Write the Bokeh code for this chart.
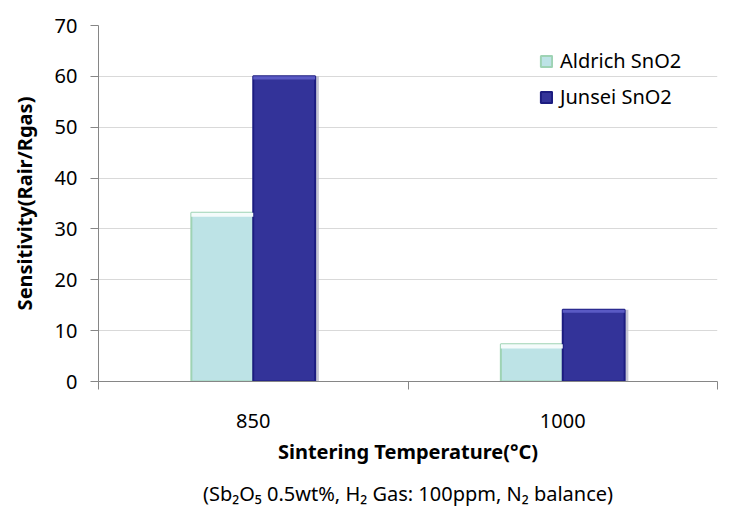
from bokeh.plotting import figure
from bokeh.models import (Range1d, FixedTicker, Title, Legend, LegendItem,
                          ColumnDataSource)
from bokeh.embed import file_html
from bokeh.resources import INLINE

# ---- data ----
categories = ["850", "1000"]
aldrich = [33.2, 7.3]
junsei = [60.0, 14.1]
series_names = ["Aldrich SnO2", "Junsei SnO2"]
y_ticks = [0, 10, 20, 30, 40, 50, 60, 70]
x_title = "Sintering Temperature(°C)"
y_title = "Sensitivity(Rair/Rgas)"
note = "(Sb₂O₅ 0.5wt%, H₂ Gas: 100ppm, N₂ balance)"

FONT = "Noto Sans"
BW = 0.2

centers = [i + 0.5 for i in range(len(categories))]

p = figure(frame_width=619, frame_height=356, output_backend="svg",
           toolbar_location=None, x_range=Range1d(0, len(categories)),
           y_range=Range1d(0, 70),
           min_border_left=98, min_border_right=20, min_border_top=25,
           min_border_bottom=132)
p.outline_line_color = None
p.background_fill_color = "white"

src_a = ColumnDataSource(dict(left=[c - 0.1 - BW / 2 for c in centers],
                              right=[c - 0.1 + BW / 2 for c in centers],
                              top=aldrich,
                              hl=[v - 0.8 for v in aldrich]))
src_j = ColumnDataSource(dict(left=[c + 0.1 - BW / 2 for c in centers],
                              right=[c + 0.1 + BW / 2 for c in centers],
                              top=junsei,
                              hl=[v - 0.6 for v in junsei],
                              sl=[c + 0.1 + BW / 2 for c in centers],
                              sr=[c + 0.1 + BW / 2 + 0.012 for c in centers]))

# shadow for dark bars
p.quad(left="sl", right="sr", bottom=0, top="top", source=src_j,
       fill_color="#b8b8c8", line_color=None, fill_alpha=0.8)

ra = p.quad(left="left", right="right", bottom=0, top="top", source=src_a,
            fill_color="#bde3e6", line_color="#9ed3b4", line_width=2)
rj = p.quad(left="left", right="right", bottom=0, top="top", source=src_j,
            fill_color="#333399", line_color="#1c1c80", line_width=2)
# bevel highlights
p.quad(left="left", right="right", bottom="hl", top="top", source=src_a,
       fill_color="#f4fbfb", line_color=None)
p.quad(left="left", right="right", bottom="hl", top="top", source=src_j,
       fill_color="#5a5ac4", line_color=None)

# axes
p.yaxis.ticker = FixedTicker(ticks=y_ticks)
p.yaxis.axis_label = y_title
p.yaxis.axis_label_text_font = FONT
p.yaxis.axis_label_text_font_style = "bold"
p.yaxis.axis_label_text_font_size = "20px"
p.yaxis.axis_label_text_color = "black"
p.yaxis.axis_label_standoff = 14
p.yaxis.major_label_text_font = FONT
p.yaxis.major_label_text_font_size = "20px"
p.yaxis.major_label_text_color = "black"
p.yaxis.major_label_standoff = 13
p.yaxis.axis_line_color = "#868686"
p.yaxis.major_tick_line_color = "#868686"
p.yaxis.major_tick_out = 8
p.yaxis.major_tick_in = 0
p.yaxis.minor_tick_line_color = None

p.xaxis.ticker = FixedTicker(ticks=centers,
                             minor_ticks=list(range(len(categories) + 1)))
p.xaxis.major_label_overrides = {c: lab for c, lab in zip(centers, categories)}
p.xaxis.axis_label = x_title
p.xaxis.axis_label_text_font = FONT
p.xaxis.axis_label_text_font_style = "bold"
p.xaxis.axis_label_text_font_size = "20px"
p.xaxis.axis_label_text_color = "black"
p.xaxis.axis_label_standoff = 7
p.xaxis.major_label_text_font = FONT
p.xaxis.major_label_text_font_size = "20px"
p.xaxis.major_label_text_color = "black"
p.xaxis.major_label_standoff = 24
p.xaxis.axis_line_color = "#868686"
p.xaxis.major_tick_line_color = None
p.xaxis.major_tick_out = 0
p.xaxis.major_tick_in = 0
p.xaxis.minor_tick_line_color = "#868686"
p.xaxis.minor_tick_out = 8
p.xaxis.minor_tick_in = 0

p.xgrid.grid_line_color = None
p.ygrid.ticker = FixedTicker(ticks=y_ticks)
p.ygrid.grid_line_color = "#d9d9d9"

legend = Legend(items=[LegendItem(label=series_names[0], renderers=[ra]),
                       LegendItem(label=series_names[1], renderers=[rj])],
                location=(441, 271), padding=0, margin=0, spacing=9,
                glyph_width=14, glyph_height=14, label_standoff=7,
                label_height=20,
                label_text_font=FONT, label_text_font_size="20px",
                label_text_color="black", background_fill_alpha=0,
                border_line_color=None)
p.add_layout(legend)

sub = Title(text=note, align="center", text_font=FONT,
            text_font_size="20px", text_font_style="normal",
            text_color="black", standoff=20)
p.add_layout(sub, "below")

open("out.html", "w").write(file_html(p, INLINE))
